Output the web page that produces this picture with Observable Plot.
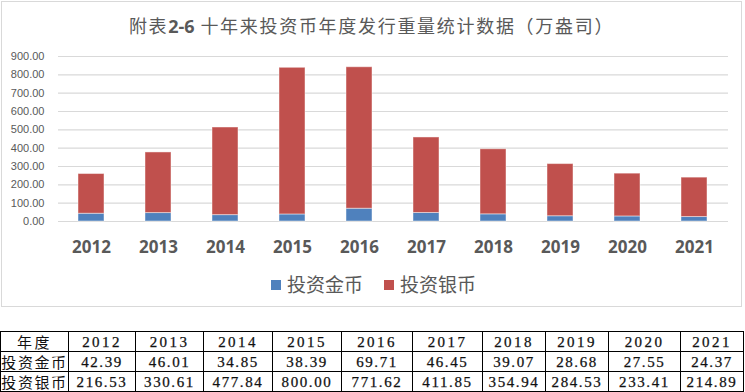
<!DOCTYPE html>
<html>
<head>
<meta charset="utf-8">
<script src="https://cdn.jsdelivr.net/npm/d3@7"></script>
<script src="https://cdn.jsdelivr.net/npm/@observablehq/plot@0.6"></script>
<style>
  html, body { margin: 0; padding: 0; background: #fff; }
  #root { position: relative; width: 745px; height: 392px; overflow: hidden; background: #fff; }
  #panel { position: absolute; left: 1px; top: 1px; width: 741px; height: 306px; box-sizing: border-box; border: 1px solid #d9d9d9; }
  #title { position: absolute; left: 0; width: 743px; top: 12px; text-align: center; font-family: "Noto Sans CJK SC", "Noto Sans", sans-serif; font-size: 18px; letter-spacing: 1.7px; color: #595959; line-height: 26px; white-space: nowrap; }
  #title b { font-family: "Open Sans", sans-serif; font-weight: 700; letter-spacing: 0; }
  #chart { position: absolute; left: 0; top: 0; }
  #legend { position: absolute; top: 272px; left: 0; width: 745px; height: 24px; font-family: "Noto Sans CJK SC", sans-serif; font-size: 19px; color: #595959; }
  .li { position: absolute; top: 0; line-height: 24px; white-space: nowrap; }
  .sw { display: inline-block; width: 10px; height: 10px; vertical-align: middle; margin-right: 6px; position: relative; top: -2px; }
  #tbl { position: absolute; left: 0; top: 331px; border-collapse: collapse; table-layout: fixed; width: 743px; }
  #tbl td { border: 1px solid #000; height: 19px; padding: 0; text-align: center; font-family: "Liberation Serif", serif; font-size: 15px; color: #111; line-height: 18px; white-space: nowrap; overflow: hidden; -webkit-text-stroke: 0.25px #111; }
  #tbl td.lab { font-family: "Noto Sans CJK SC", sans-serif; font-size: 15px; letter-spacing: 0; -webkit-text-stroke: 0; }
  #tbl tr.hdr td { letter-spacing: 2.4px; }
  #tbl tr.val td { letter-spacing: 1.6px; }
</style>
</head>
<body>
<div id="root">
  <div id="panel"></div>
  <div id="title"></div>
  <div id="chart"></div>
  <div id="legend"></div>
  <table id="tbl"></table>
</div>
<script>
const years = ["2012","2013","2014","2015","2016","2017","2018","2019","2020","2021"];
const gold = [42.39, 46.01, 34.85, 38.39, 69.71, 46.45, 39.07, 28.68, 27.55, 24.37];
const silver = [216.53, 330.61, 477.84, 800.00, 771.62, 411.85, 354.94, 284.53, 233.41, 214.89];
const seriesNames = ["投资金币", "投资银币"];
const seriesColors = ["#4f81bd", "#c0504d"];
const yTicks = [0, 100, 200, 300, 400, 500, 600, 700, 800, 900];
const titleText = ["附表", "2-6", " 十年来投资币年度发行重量统计数据（万盎司）"];
const tableHeader = "年度";

// title
document.getElementById("title").innerHTML = titleText[0] + "<b>" + titleText[1] + "</b>" + titleText[2];

// long-format rows for stacking
const rows = [];
years.forEach((y, i) => {
  rows.push({year: y, series: seriesNames[0], value: gold[i]});
  rows.push({year: y, series: seriesNames[1], value: silver[i]});
});

const chart = Plot.plot({
  width: 745,
  height: 262,
  marginLeft: 58,
  marginRight: 17,
  marginTop: 56,
  marginBottom: 41,
  style: {background: "transparent", fontFamily: "'Liberation Sans', sans-serif", overflow: "visible"},
  x: {domain: years, paddingInner: 0.61, paddingOuter: 0.305, label: null},
  y: {domain: [0, 900], label: null},
  color: {domain: seriesNames, range: seriesColors},
  marks: [
    Plot.gridY(yTicks, {stroke: "#d9d9d9", strokeOpacity: 1, strokeWidth: 1.2}),
    Plot.barY(rows, {x: "year", y: "value", fill: "series", stroke: "#ffffff", strokeOpacity: 0.45, strokeWidth: 1, order: seriesNames}),
    Plot.axisY({ticks: yTicks, tickSize: 0, tickPadding: 14, tickFormat: d3.format(".2f"), fontSize: 11, fill: "#595959", label: null}),
    Plot.axisX({tickSize: 0, tickPadding: 19, fontSize: 17, fontWeight: "bold", fill: "#595959", label: null, fontFamily: "'Open Sans', sans-serif"})
  ]
});
document.getElementById("chart").appendChild(chart);

// legend
const legend = document.getElementById("legend");
const legendX = [271, 384];
seriesNames.forEach((name, i) => {
  const d = document.createElement("div");
  d.className = "li";
  d.style.left = legendX[i] + "px";
  d.innerHTML = `<span class="sw" style="background:${seriesColors[i]}"></span>${name}`;
  legend.appendChild(d);
});

// table
const colWidths = [68, 67, 68, 69, 69, 71, 70, 63, 63, 72, 63];
const tbl = document.getElementById("tbl");
const cg = document.createElement("colgroup");
colWidths.forEach(w => { const c = document.createElement("col"); c.style.width = w + "px"; cg.appendChild(c); });
tbl.appendChild(cg);
function addRow(cls, label, vals) {
  const tr = document.createElement("tr");
  tr.className = cls;
  const th = document.createElement("td");
  th.className = "lab";
  th.textContent = label;
  tr.appendChild(th);
  vals.forEach(v => { const td = document.createElement("td"); td.textContent = v; tr.appendChild(td); });
  tbl.appendChild(tr);
}
addRow("hdr", tableHeader, years);
addRow("val", seriesNames[0], gold.map(v => v.toFixed(2)));
addRow("val", seriesNames[1], silver.map(v => v.toFixed(2)));
</script>
</body>
</html>
